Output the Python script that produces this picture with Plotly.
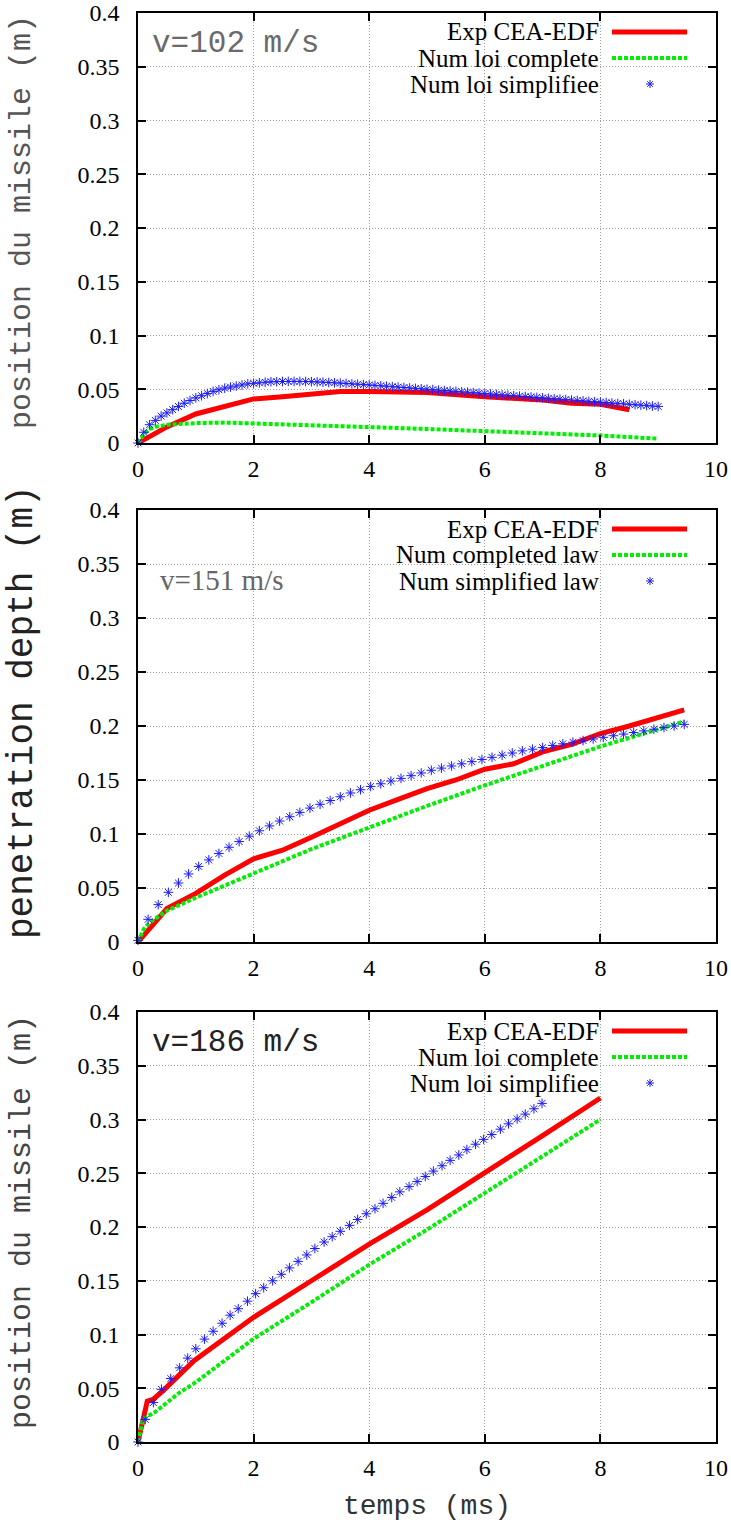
import plotly.graph_objects as go

W, H = 731, 1522

# ---------------- data ----------------
x_ticks = [0, 2, 4, 6, 8, 10]
y_ticks = [0, 0.05, 0.1, 0.15, 0.2, 0.25, 0.3, 0.35, 0.4]
y_ticktext = ["0", "0.05", "0.1", "0.15", "0.2", "0.25", "0.3", "0.35", "0.4"]

# Panel 1 : v = 102 m/s
p1_exp_t = [0, 0.5, 1, 2, 2.5, 3.5, 4, 5, 6, 6.5, 7, 7.5, 8, 8.5]
p1_exp_y = [0, 0.015, 0.027, 0.041, 0.043, 0.048, 0.048, 0.047, 0.043, 0.042, 0.040, 0.037, 0.036, 0.031]
p1_comp_t = [0, 0.1, 0.2, 0.3, 0.5, 0.75, 1, 1.5, 2, 3, 4, 5, 6, 7, 8, 9]
p1_comp_y = [0, 0.008, 0.013, 0.015, 0.017, 0.018, 0.0185, 0.019, 0.018, 0.0165, 0.0148, 0.013, 0.011, 0.009, 0.007, 0.004]
p1_simp_t = [0.0, 0.1, 0.2, 0.3, 0.4, 0.5, 0.6, 0.7, 0.8, 0.9,
             1.0, 1.1, 1.2, 1.3, 1.4, 1.5, 1.6, 1.7, 1.8, 1.9,
             2.0, 2.1, 2.2, 2.3, 2.4, 2.5, 2.6, 2.7, 2.8, 2.9,
             3.0, 3.1, 3.2, 3.3, 3.4, 3.5, 3.6, 3.7, 3.8, 3.9,
             4.0, 4.1, 4.2, 4.3, 4.4, 4.5, 4.6, 4.7, 4.8, 4.9,
             5.0, 5.1, 5.2, 5.3, 5.4, 5.5, 5.6, 5.7, 5.8, 5.9,
             6.0, 6.1, 6.2, 6.3, 6.4, 6.5, 6.6, 6.7, 6.8, 6.9,
             7.0, 7.1, 7.2, 7.3, 7.4, 7.5, 7.6, 7.7, 7.8, 7.9,
             8.0, 8.1, 8.2, 8.3, 8.4, 8.5, 8.6, 8.7, 8.8, 8.9, 9.0]
p1_simp_y = [0.0, 0.010, 0.017, 0.021, 0.025, 0.028, 0.031, 0.034, 0.037, 0.0395,
             0.042, 0.044, 0.046, 0.048, 0.0495, 0.051, 0.052, 0.053, 0.054, 0.055,
             0.0555, 0.056, 0.0565, 0.057, 0.057, 0.0572, 0.0573, 0.0573, 0.0573, 0.0572,
             0.057, 0.0568, 0.0566, 0.0563, 0.056, 0.0557, 0.0554, 0.055, 0.0547, 0.0543,
             0.054, 0.0536, 0.0532, 0.0528, 0.0524, 0.052, 0.0516, 0.0512, 0.0508, 0.0504,
             0.050, 0.0496, 0.0492, 0.0488, 0.0484, 0.048, 0.0476, 0.0472, 0.0468, 0.0464,
             0.046, 0.0456, 0.0452, 0.0448, 0.0444, 0.044, 0.0436, 0.0432, 0.0428, 0.0424,
             0.042, 0.0416, 0.0412, 0.0408, 0.0404, 0.040, 0.0396, 0.0392, 0.0388, 0.0384,
             0.038, 0.0376, 0.0372, 0.0368, 0.0364, 0.036, 0.0356, 0.0352, 0.0348, 0.0344, 0.034]

# Panel 2 : v = 151 m/s
p2_exp_t = [0, 0.5, 1, 1.5, 2, 2.5, 3, 3.5, 4, 4.5, 5, 5.5, 6, 6.5, 7, 7.5, 8, 8.5, 9, 9.45]
p2_exp_y = [0, 0.031, 0.045, 0.062, 0.077, 0.085, 0.097, 0.110, 0.122, 0.132, 0.142, 0.150,
            0.160, 0.165, 0.176, 0.183, 0.193, 0.200, 0.208, 0.215]
p2_comp_t = [0, 0.1, 0.2, 0.3, 0.5, 1, 2, 3, 4, 5, 6, 7, 8, 9, 9.45]
p2_comp_y = [0, 0.012, 0.018, 0.022, 0.029, 0.041, 0.064, 0.086, 0.106, 0.126, 0.145, 0.163, 0.181, 0.197, 0.204]
p2_simp_t = [0.0, 0.175, 0.35, 0.525, 0.7, 0.875, 1.05, 1.225, 1.4, 1.575,
             1.75, 1.925, 2.1, 2.275, 2.45, 2.625, 2.8, 2.975, 3.15, 3.325,
             3.5, 3.675, 3.85, 4.025, 4.2, 4.375, 4.55, 4.725, 4.9, 5.075,
             5.25, 5.425, 5.6, 5.775, 5.95, 6.125, 6.3, 6.475, 6.65, 6.825,
             7.0, 7.175, 7.35, 7.525, 7.7, 7.875, 8.05, 8.225, 8.4, 8.575,
             8.75, 8.925, 9.1, 9.275, 9.45]
p2_simp_y = [0.0015, 0.021, 0.0346, 0.046, 0.0546, 0.063, 0.070, 0.076, 0.082, 0.0877,
             0.093, 0.098, 0.103, 0.1075, 0.112, 0.116, 0.120, 0.124, 0.1275, 0.131,
             0.1345, 0.138, 0.141, 0.144, 0.1465, 0.149, 0.1515, 0.154, 0.1565, 0.159,
             0.161, 0.163, 0.165, 0.167, 0.169, 0.171, 0.173, 0.175, 0.177, 0.1785,
             0.180, 0.182, 0.1835, 0.185, 0.1865, 0.188, 0.1895, 0.191, 0.1925, 0.194,
             0.1955, 0.197, 0.1985, 0.200, 0.2015]

# Panel 3 : v = 186 m/s
p3_exp_t = [0, 0.05, 0.16, 0.27, 0.44, 0.97, 1.5, 2, 3, 4, 5, 6, 7, 8]
p3_exp_y = [0, 0.011, 0.038, 0.040, 0.048, 0.0756, 0.0957, 0.116, 0.150, 0.184, 0.216, 0.250, 0.285, 0.320]
p3_comp_t = [0, 0.09, 0.3, 0.72, 1, 2, 3, 4, 5, 6, 7, 8]
p3_comp_y = [0, 0.0216, 0.028, 0.046, 0.0556, 0.096, 0.130, 0.165, 0.1975, 0.232, 0.266, 0.300]
p3_simp_t = [0.0, 0.126, 0.266, 0.406, 0.566, 0.72, 0.86, 1.0, 1.15, 1.30,
             1.455, 1.594, 1.734, 1.895, 2.035, 2.175, 2.33, 2.48, 2.62, 2.77,
             2.92, 3.06, 3.22, 3.36, 3.50, 3.66, 3.80, 3.95, 4.10, 4.24,
             4.39, 4.53, 4.69, 4.83, 4.97, 5.11, 5.26, 5.40, 5.55, 5.69,
             5.84, 5.98, 6.12, 6.27, 6.41, 6.56, 6.70, 6.85, 6.99]
p3_simp_y = [0.0, 0.021, 0.0367, 0.049, 0.059, 0.069, 0.078, 0.0867, 0.0957, 0.103,
             0.1105, 0.118, 0.124, 0.131, 0.138, 0.1435, 0.150, 0.156, 0.162, 0.168,
             0.174, 0.180, 0.186, 0.191, 0.196, 0.2015, 0.207, 0.2123, 0.217, 0.222,
             0.2275, 0.2327, 0.2376, 0.2423, 0.247, 0.252, 0.257, 0.262, 0.267, 0.272,
             0.277, 0.2815, 0.286, 0.291, 0.296, 0.3005, 0.305, 0.310, 0.315]

labels_fr = ["Exp CEA-EDF", "Num loi complete", "Num loi simplifiee"]
labels_en = ["Exp CEA-EDF", "Num completed law", "Num simplified law"]

# ---------------- styling ----------------
RED = "#ff0000"
GREEN = "#00ee00"
BLUE = "#1a1aff"
SERIF = "Liberation Serif, Times New Roman, serif"
MONO = "Liberation Mono, Courier New, monospace"

tops = [13, 510, 1012]
bottoms = [443, 942, 1442]
X_LEFT, X_RIGHT = 138, 716


def px(x):
    return x / W


def py(y):
    return 1 - y / H


panels = [
    dict(exp=(p1_exp_t, p1_exp_y), comp=(p1_comp_t, p1_comp_y), simp=(p1_simp_t, p1_simp_y),
         labels=labels_fr, ytitle="position du missile (m)", ytfont=MONO, ytsize=30, ytcolor="#555",
         vlabel="v=102 m/s", vfont=MONO, vsize=31, vcolor="#6a6a6a", ytitle_y=222,
         vx=150, vy=30),
    dict(exp=(p2_exp_t, p2_exp_y), comp=(p2_comp_t, p2_comp_y), simp=(p2_simp_t, p2_simp_y),
         labels=labels_en, ytitle="penetration depth (m)", ytfont=MONO, ytsize=36, ytcolor="#222",
         vlabel="v=151 m/s", vfont=SERIF, vsize=29, vcolor="#666", ytitle_y=712,
         vx=158, vy=70),
    dict(exp=(p3_exp_t, p3_exp_y), comp=(p3_comp_t, p3_comp_y), simp=(p3_simp_t, p3_simp_y),
         labels=labels_fr, ytitle="position du missile (m)", ytfont=MONO, ytsize=30, ytcolor="#444",
         vlabel="v=186 m/s", vfont=MONO, vsize=31, vcolor="#222", ytitle_y=1222,
         vx=150, vy=30),
]

fig = go.Figure()
annotations = []
shapes = []

for i, p in enumerate(panels):
    n = "" if i == 0 else str(i + 1)
    xa, ya = "x" + n, "y" + n
    t, y = p["exp"]
    fig.add_trace(go.Scatter(x=t, y=y, xaxis=xa, yaxis=ya, mode="lines",
                             line=dict(color=RED, width=5), showlegend=False))
    t, y = p["comp"]
    fig.add_trace(go.Scatter(x=t, y=y, xaxis=xa, yaxis=ya, mode="lines",
                             line=dict(color=GREEN, width=4, dash="4px,2px"), showlegend=False))
    t, y = p["simp"]
    fig.add_trace(go.Scatter(x=t, y=y, xaxis=xa, yaxis=ya, mode="markers", cliponaxis=False,
                             marker=dict(symbol="asterisk-open", size=8, color=BLUE,
                                         line=dict(color=BLUE, width=1)), showlegend=False))

    top, bot = tops[i], bottoms[i]

    def axis_style():
        return dict(showline=True, linecolor="black", linewidth=1.5, mirror="ticks",
                    ticks="inside", ticklen=8, tickwidth=1.5, tickcolor="black",
                    showgrid=True, gridcolor="#a0a0a0", griddash="1px,2px", gridwidth=1,
                    zeroline=False,
                    tickfont=dict(family=SERIF, size=24, color="black"))

    fig.update_layout(**{
        "xaxis" + n: dict(domain=[px(X_LEFT), px(X_RIGHT)], range=[0, 10], anchor=ya,
                          tickvals=x_ticks, ticktext=[str(v) for v in x_ticks],
                          ticklabelstandoff=3, **axis_style()),
        "yaxis" + n: dict(domain=[py(bot), py(top)], range=[0, 0.4], anchor=xa,
                          tickvals=y_ticks, ticktext=y_ticktext, ticklabelstandoff=12,
                          **axis_style()),
    })

    # key background (hides grid under the key)
    shapes.append(dict(type="rect", xref="paper", yref="paper", layer="between",
                       x0=px(325), x1=px(704), y0=py(top + 84), y1=py(top + 2),
                       fillcolor="white", line=dict(width=0)))
    rows = [top + 19, top + 45, top + 71]
    for k, lab in enumerate(p["labels"]):
        annotations.append(dict(xref="paper", yref="paper", x=px(601), y=py(rows[k]),
                                xanchor="right", yanchor="middle", showarrow=False, text=lab,
                                font=dict(family=SERIF, size=25, color="black")))
    shapes.append(dict(type="line", xref="paper", yref="paper", x0=px(612), x1=px(687),
                       y0=py(rows[0]), y1=py(rows[0]), line=dict(color=RED, width=5)))
    shapes.append(dict(type="line", xref="paper", yref="paper", x0=px(612), x1=px(687),
                       y0=py(rows[1]), y1=py(rows[1]), line=dict(color=GREEN, width=4, dash="4px,2px")))
    cx, cy, r = 650, rows[2], 4
    path = (f"M{px(cx - r)},{py(cy)} L{px(cx + r)},{py(cy)} "
            f"M{px(cx)},{py(cy - r)} L{px(cx)},{py(cy + r)} "
            f"M{px(cx - r * 0.7)},{py(cy - r * 0.7)} L{px(cx + r * 0.7)},{py(cy + r * 0.7)} "
            f"M{px(cx - r * 0.7)},{py(cy + r * 0.7)} L{px(cx + r * 0.7)},{py(cy - r * 0.7)}")
    shapes.append(dict(type="path", xref="paper", yref="paper", path=path,
                       line=dict(color=BLUE, width=1)))

    # velocity label
    annotations.append(dict(xref="paper", yref="paper", x=px(p["vx"]), y=py(top + p["vy"]),
                            xanchor="left", yanchor="middle", showarrow=False, text=p["vlabel"],
                            font=dict(family=p["vfont"], size=p["vsize"], color=p["vcolor"])))
    # y title
    annotations.append(dict(xref="paper", yref="paper", x=px(22), y=py(p["ytitle_y"]),
                            xanchor="center", yanchor="middle", showarrow=False, textangle=-90,
                            text=p["ytitle"],
                            font=dict(family=p["ytfont"], size=p["ytsize"], color=p["ytcolor"])))

annotations.append(dict(xref="paper", yref="paper", x=px(427), y=py(1506), xanchor="center",
                        yanchor="middle", showarrow=False, text="temps (ms)",
                        font=dict(family=MONO, size=28, color="#333")))

fig.update_layout(template="none", width=W, height=H, margin=dict(l=0, r=0, t=0, b=0),
                  font=dict(family=SERIF, size=24, color="black"),
                  paper_bgcolor="white", plot_bgcolor="white", showlegend=False,
                  annotations=annotations, shapes=shapes)

fig.write_html("out.html", config={"displayModeBar": False},
               post_script="document.body.style.margin='0px';document.body.style.overflow='hidden';")
